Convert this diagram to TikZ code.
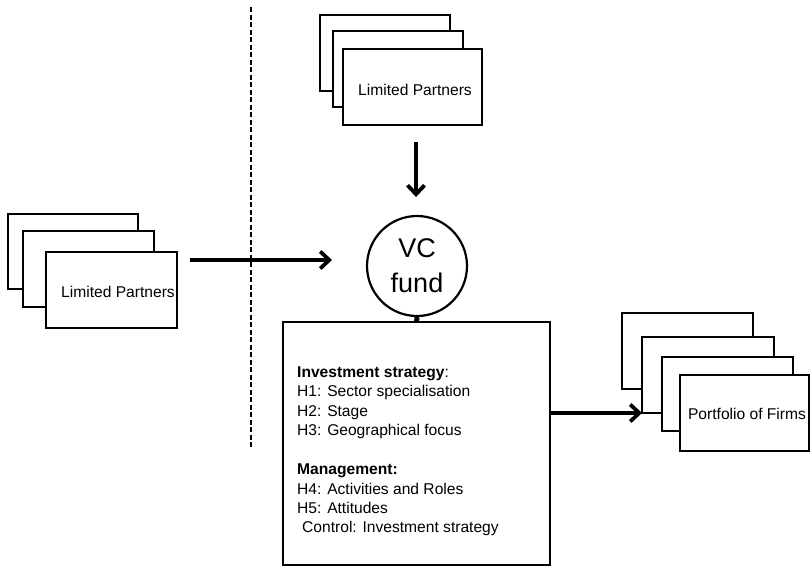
\documentclass[tikz,border=0pt]{standalone}
\usepackage{fontspec}
\setmainfont{Liberation Sans}
\usetikzlibrary{arrows.meta}
\begin{document}
\begin{tikzpicture}[x=1pt,y=-1pt,
  card/.style={draw, fill=white, line width=2.6pt, inner sep=0pt, outer sep=0pt, anchor=north west},
  arr/.style={line width=4pt, -{Straight Barb[length=9pt,width=17pt,line width=3.8pt]}},
  lbl/.style={font=\fontsize{15.6}{19}\selectfont, inner sep=0pt, anchor=base west},
  clbl/.style={font=\fontsize{15.6}{19}\selectfont, inner sep=0pt, anchor=base},
  big/.style={font=\fontsize{27}{33}\selectfont, inner sep=0pt, anchor=base}]
\useasboundingbox (0,0) rectangle (810,574);

% dashed divider
\coordinate (d1) at (251,7);
\coordinate (d2) at (251,447);
\draw[line width=2.5pt, dash pattern=on 5pt off 2.5pt] (d1) -- (d2);

% left stack of Limited Partners
\node[card, minimum width=130pt, minimum height=75pt] (l1) at (8,214) {};
\node[card, minimum width=131pt, minimum height=76pt] (l2) at (23,231) {};
\node[card, minimum width=131pt, minimum height=76pt] (l3) at (46,252) {};
\node[clbl] (l3t) at (118,297) {Limited Partners};

% top stack of Limited Partners
\node[card, minimum width=130pt, minimum height=76pt] (t1) at (320,15) {};
\node[card, minimum width=130pt, minimum height=76pt] (t2) at (333,31) {};
\node[card, minimum width=139pt, minimum height=76pt] (t3) at (343,49) {};
\node[clbl] (t3t) at (415,95) {Limited Partners};

% VC fund circle
\node[draw, circle, line width=2.2pt, minimum size=100pt, inner sep=0pt] (vc) at (417,266) {};
\node[big] (vct1) at (417,257) {VC};
\node[big] (vct2) at (417,292) {fund};

% main box
\node[card, minimum width=267pt, minimum height=243pt] (box) at (283,322) {};
\draw[line width=5pt] (vc.south) -- (box.north);

\node[lbl] (s0) at (297,377) {\textbf{Investment strategy}:};
\node[lbl] (s1) at (297,396) {H1: Sector specialisation};
\node[lbl] (s2) at (297,416) {H2: Stage};
\node[lbl] (s3) at (297,435) {H3: Geographical focus};
\node[lbl] (m0) at (297,474) {\textbf{Management:}};
\node[lbl] (m1) at (297,494) {H4: Activities and Roles};
\node[lbl] (m2) at (297,513) {H5: Attitudes};
\node[lbl] (m3) at (302,532) {Control: Investment strategy};

% right stack of portfolio firms
\node[card, minimum width=131pt, minimum height=76pt] (r1) at (622,313) {};
\node[card, minimum width=132pt, minimum height=76pt] (r2) at (642,337) {};
\node[card, minimum width=131pt, minimum height=74pt] (r3) at (662,357) {};
\node[card, minimum width=129pt, minimum height=76pt] (r4) at (680,375) {};
\node[clbl] (r4t) at (747,419) {Portfolio of Firms};

% arrows
\coordinate (a1s) at (190,260);
\coordinate (a1e) at (332,260);
\draw[arr] (a1s) -- (a1e);
\coordinate (a2s) at (416,142);
\coordinate (a2e) at (416,197);
\draw[arr] (a2s) -- (a2e);
\draw[arr] (box.east |- r2.south west) -- (r2.south west);
\end{tikzpicture}
\end{document}
